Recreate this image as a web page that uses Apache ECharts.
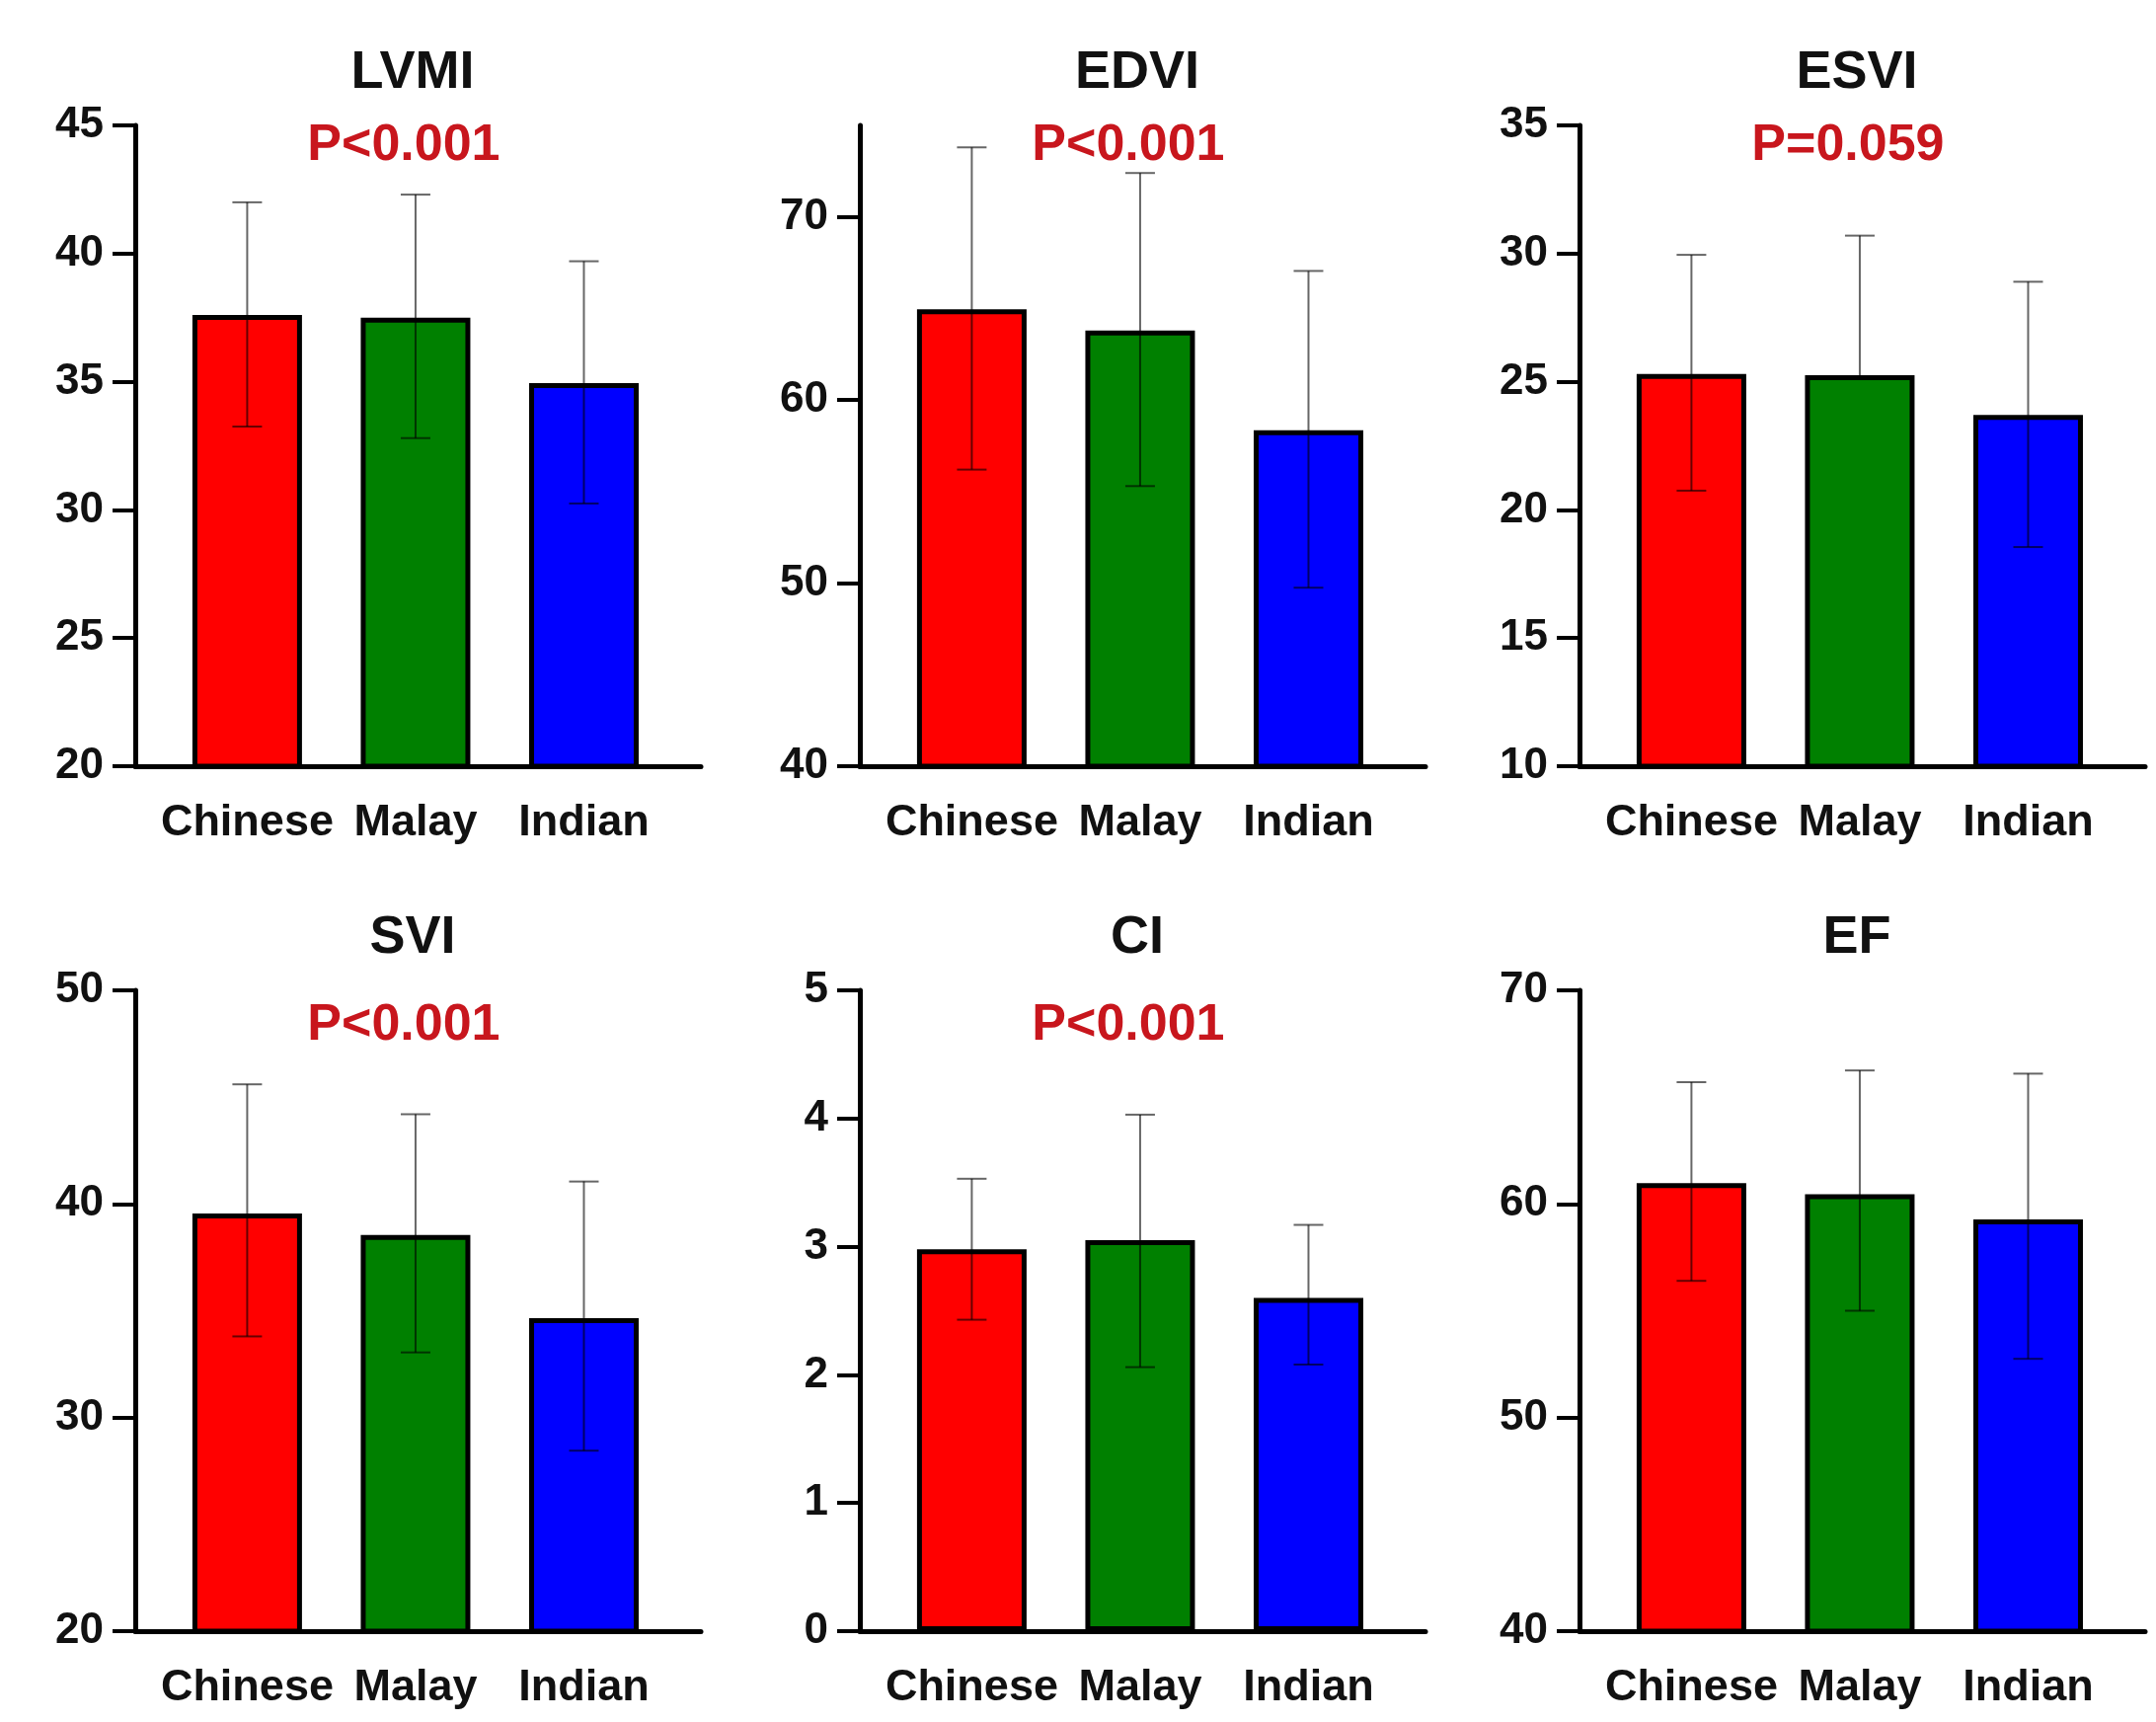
<!DOCTYPE html>
<html>
<head>
<meta charset="utf-8">
<script src="https://cdn.jsdelivr.net/npm/echarts@6/dist/echarts.min.js"></script>
<style>
html,body{margin:0;padding:0;background:#fff;}
#chart{width:2184px;height:1744px;}
</style>
</head>
<body>
<div id="chart"></div>
<script>
// ---- data ----
const categories = ['Chinese', 'Malay', 'Indian'];
const panelTitles = ['LVMI', 'EDVI', 'ESVI', 'SVI', 'CI', 'EF'];
const pLabels = ['P<0.001', 'P<0.001', 'P=0.059', 'P<0.001', 'P<0.001', ''];

const lvmiMean  = [37.6, 37.5, 34.95];
const lvmiUpper = [42.0, 42.3, 39.7];
const lvmiLower = [33.25, 32.8, 30.25];

const edviMean  = [64.95, 63.8, 58.35];
const edviUpper = [73.8, 72.4, 67.05];
const edviLower = [56.2, 55.3, 49.75];

const esviMean  = [25.3, 25.25, 23.7];
const esviUpper = [29.95, 30.7, 28.9];
const esviLower = [20.75, null, 18.55];

const sviMean  = [39.55, 38.55, 34.65];
const sviUpper = [45.6, 44.2, 41.05];
const sviLower = [33.8, 33.05, 28.45];

const ciMean  = [2.98, 3.05, 2.6];
const ciUpper = [3.53, 4.03, 3.17];
const ciLower = [2.43, 2.06, 2.08];

const efMean  = [60.98, 60.46, 59.28];
const efUpper = [65.7, 66.25, 66.1];
const efLower = [56.4, 55.0, 52.75];

const yMin  = [20, 40, 10, 20, 0, 40];
const yMax  = [45, 75, 35, 50, 5, 70];
const yStep = [5, 10, 5, 10, 1, 10];
const yTicks = [
  [20, 25, 30, 35, 40, 45],
  [40, 50, 60, 70],
  [10, 15, 20, 25, 30, 35],
  [20, 30, 40, 50],
  [0, 1, 2, 3, 4, 5],
  [40, 50, 60, 70]
];
const barColors = ['#FF0000', '#008000', '#0000FF'];

// ---- layout ----
const means  = [lvmiMean, edviMean, esviMean, sviMean, ciMean, efMean];
const uppers = [lvmiUpper, edviUpper, esviUpper, sviUpper, ciUpper, efUpper];
const lowers = [lvmiLower, edviLower, esviLower, sviLower, ciLower, efLower];

const colLeft = [137, 871, 1600];
const rowTop = [127, 1003];
const gridW = 573, gridH = 649;
const xMin = -0.665, xMax = 2.695;
const pOffset = [21, 36];
const FONT = '"Liberation Sans", Arial, Helvetica, sans-serif';

const grids = [], xAxes = [], yAxes = [], series = [], graphics = [];

for (let i = 0; i < 6; i++) {
  const r = Math.floor(i / 3), c = i % 3;
  grids.push({ left: colLeft[c], top: rowTop[r], width: gridW, height: gridH, containLabel: false });
  xAxes.push({
    type: 'value', gridIndex: i, min: xMin, max: xMax,
    splitLine: { show: false },
    axisLine: { show: true, onZero: false, lineStyle: { color: '#000', width: 5 } },
    axisTick: { show: false },
    axisLabel: {
      customValues: [0, 1, 2],
      formatter: v => categories[Math.round(v)],
      color: '#111', fontFamily: FONT, fontWeight: 'bold', fontSize: 45, margin: 35
    }
  });
  yAxes.push({
    type: 'value', gridIndex: i, min: yMin[i], max: yMax[i], interval: yStep[i],
    splitLine: { show: false },
    axisLine: { show: true, onZero: false, lineStyle: { color: '#000', width: 5 } },
    axisTick: { show: true, customValues: yTicks[i], length: 23, lineStyle: { color: '#000', width: 4 } },
    axisLabel: {
      customValues: yTicks[i],
      color: '#111', fontFamily: FONT, fontWeight: 'bold', fontSize: 44, margin: 32
    }
  });
  series.push({
    type: 'bar', xAxisIndex: i, yAxisIndex: i, barWidth: 111,
    data: means[i].map((v, k) => ({
      value: [k, v],
      itemStyle: { color: barColors[k], borderColor: '#000', borderWidth: 5 }
    })),
    z: 2
  });
  series.push({
    type: 'custom', xAxisIndex: i, yAxisIndex: i, z: 5,
    data: means[i].map((v, k) => [k, v, lowers[i][k], uppers[i][k]]),
    renderItem: function (params, api) {
      const x = api.value(0), m = api.value(1), lo = api.value(2), hi = api.value(3);
      const capHalf = 15;
      const children = [];
      const style = { stroke: 'rgba(0,0,0,0.6)', lineWidth: 2 };
      const pTop = api.coord([x, hi]);
      const hasLo = !(lo == null || isNaN(lo));
      const pBot = api.coord([x, hasLo ? lo : m]);
      children.push({ type: 'line', shape: { x1: pTop[0], y1: pTop[1], x2: pBot[0], y2: pBot[1] }, style: style });
      children.push({ type: 'line', shape: { x1: pTop[0] - capHalf, y1: pTop[1], x2: pTop[0] + capHalf, y2: pTop[1] }, style: style });
      if (hasLo) {
        children.push({ type: 'line', shape: { x1: pBot[0] - capHalf, y1: pBot[1], x2: pBot[0] + capHalf, y2: pBot[1] }, style: style });
      }
      return { type: 'group', children: children };
    }
  });
  const cx = colLeft[c] + (1 - xMin) / (xMax - xMin) * gridW;
  graphics.push({
    type: 'text', x: cx - 3, y: rowTop[r] - 53, z: 10,
    style: { text: panelTitles[i], fill: '#111', font: 'bold 54px ' + FONT, textAlign: 'center', textVerticalAlign: 'middle' }
  });
  if (pLabels[i]) {
    graphics.push({
      type: 'text', x: cx - 12, y: rowTop[r] + pOffset[r], z: 10,
      style: { text: pLabels[i], fill: '#C8161D', font: 'bold 52px ' + FONT, textAlign: 'center', textVerticalAlign: 'middle' }
    });
  }
}

const chart = echarts.init(document.getElementById('chart'), null, { renderer: 'canvas' });
chart.setOption({
  backgroundColor: '#fff',
  animation: false,
  grid: grids, xAxis: xAxes, yAxis: yAxes, series: series,
  graphic: graphics
});
</script>
</body>
</html>
